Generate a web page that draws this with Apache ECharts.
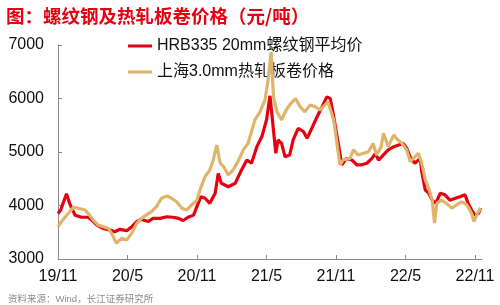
<!DOCTYPE html>
<html>
<head>
<meta charset="utf-8">
<script src="https://cdn.jsdelivr.net/npm/echarts@6/dist/echarts.min.js"></script>
<style>
  html, body { margin: 0; padding: 0; background: #fff; }
  #chart { width: 500px; height: 305px; }
</style>
</head>
<body>
<div id="chart"></div>
<script>
const tickLabels = ["19/11", "20/5", "20/11", "21/5", "21/11", "22/5", "22/11"];

// HRB335 20mm 螺纹钢平均价
const rebarDates = [
  "2019-11-01", "2019-11-08", "2019-11-23", "2019-12-01", "2019-12-15", "2020-01-02", "2020-01-19", "2020-01-28",
  "2020-02-11", "2020-02-28", "2020-03-16", "2020-03-28", "2020-04-11", "2020-04-29", "2020-05-12", "2020-05-25",
  "2020-06-07", "2020-06-25", "2020-07-07", "2020-07-25", "2020-08-13", "2020-08-29", "2020-09-13", "2020-09-25",
  "2020-10-08", "2020-10-22", "2020-11-04", "2020-11-11", "2020-11-22", "2020-12-04", "2020-12-18", "2020-12-26",
  "2021-01-04", "2021-01-22", "2021-02-10", "2021-02-26", "2021-03-10", "2021-03-22", "2021-04-06", "2021-04-19",
  "2021-05-01", "2021-05-10", "2021-05-19", "2021-05-25", "2021-06-01", "2021-06-10", "2021-06-19", "2021-07-01",
  "2021-07-10", "2021-07-23", "2021-08-07", "2021-08-16", "2021-08-28", "2021-09-10", "2021-09-25", "2021-10-07",
  "2021-10-16", "2021-10-25", "2021-11-07", "2021-11-16", "2021-11-28", "2021-12-12", "2021-12-25", "2022-01-07",
  "2022-01-21", "2022-02-04", "2022-02-13", "2022-02-21", "2022-03-04", "2022-03-16", "2022-04-01", "2022-04-13",
  "2022-04-25", "2022-05-04", "2022-05-13", "2022-05-25", "2022-06-09", "2022-06-13", "2022-06-22", "2022-07-01",
  "2022-07-10", "2022-07-19", "2022-08-01", "2022-08-13", "2022-08-26", "2022-09-10", "2022-09-22", "2022-10-05",
  "2022-10-13", "2022-10-22", "2022-11-01", "2022-11-10", "2022-11-16"
];
const rebarPrices = [
  3850, 3915, 4220, 4040, 3820, 3780, 3780, 3730,
  3640, 3570, 3540, 3510, 3555, 3530, 3605, 3700,
  3740, 3700, 3760, 3760, 3790, 3780, 3760, 3720,
  3780, 3820, 4040, 4165, 4135, 4040, 4230, 4600,
  4415, 4350, 4415, 4660, 4850, 4790, 5100, 5290,
  5600, 6050, 5410, 4975, 5225, 5160, 4910, 4945,
  5225, 5440, 5380, 5255, 5440, 5630, 5845, 6030,
  6000, 5660, 5150, 4760, 4880, 4850, 4760, 4760,
  4790, 4880, 4975, 4850, 4945, 5040, 5100, 5130,
  5160, 5070, 4910, 4790, 4880, 4630, 4290, 4230,
  4100, 4040, 4230, 4200, 4100, 4135, 4165, 4200,
  4040, 3915, 3820, 3855, 3950
];

// 上海3.0mm热轧板卷价格
const coilDates = [
  "2019-11-01", "2019-11-13", "2019-11-28", "2019-12-11", "2019-12-23", "2020-01-11", "2020-01-19", "2020-02-02",
  "2020-02-15", "2020-02-28", "2020-03-11", "2020-03-20", "2020-04-02", "2020-04-16", "2020-04-29", "2020-05-12",
  "2020-05-25", "2020-06-07", "2020-06-19", "2020-07-03", "2020-07-16", "2020-07-29", "2020-08-13", "2020-08-25",
  "2020-09-08", "2020-09-22", "2020-10-04", "2020-10-17", "2020-11-01", "2020-11-10", "2020-11-22", "2020-12-04",
  "2020-12-13", "2020-12-22", "2021-01-01", "2021-01-10", "2021-01-22", "2021-02-04", "2021-02-17", "2021-03-01",
  "2021-03-13", "2021-04-01", "2021-04-14", "2021-04-27", "2021-05-05", "2021-05-13", "2021-05-19", "2021-05-28",
  "2021-06-10", "2021-06-22", "2021-07-04", "2021-07-16", "2021-07-28", "2021-08-10", "2021-08-24", "2021-09-07",
  "2021-09-19", "2021-09-28", "2021-10-10", "2021-10-25", "2021-11-04", "2021-11-11", "2021-11-19", "2021-12-07",
  "2021-12-16", "2021-12-28", "2022-01-12", "2022-01-25", "2022-02-07", "2022-02-16", "2022-02-28", "2022-03-04",
  "2022-03-16", "2022-04-01", "2022-04-07", "2022-04-22", "2022-05-04", "2022-05-13", "2022-05-25", "2022-06-04",
  "2022-06-13", "2022-06-22", "2022-07-01", "2022-07-10", "2022-07-16", "2022-07-22", "2022-08-04", "2022-08-17",
  "2022-09-01", "2022-09-13", "2022-09-26", "2022-10-10", "2022-10-22", "2022-10-28", "2022-11-07", "2022-11-16"
];
const coilPrices = [
  3600, 3730, 3855, 3965, 3950, 3915, 3855, 3730,
  3635, 3605, 3575, 3480, 3295, 3390, 3355, 3480,
  3665, 3760, 3820, 3885, 3980, 4135, 4180, 4135,
  4070, 3950, 3915, 4010, 4100, 4320, 4540, 4660,
  4850, 5130, 4790, 4725, 4570, 4660, 4820, 5040,
  5160, 5600, 5750, 5970, 6345, 6870, 6030, 5750,
  5600, 5785, 5910, 6000, 5845, 5750, 5880, 5845,
  5785, 5845, 5940, 5600, 5130, 4760, 4850, 4880,
  5040, 4945, 4975, 5005, 5160, 4945, 5100, 5350,
  5100, 5320, 5255, 5160, 5040, 4820, 4910, 4975,
  4790, 4480, 4320, 4100, 3670, 4040, 4100, 4040,
  3950, 4010, 4070, 4010, 3855, 3700, 3855, 3950
];

// months since 2019-11-01, used as the x value
const monthOffset = (s) => {
  const [y, m, d] = s.split("-").map(Number);
  return (y - 2019) * 12 + (m - 11) + (d - 1) / 30;
};
const toPairs = (dates, values) => dates.map((d, i) => [monthOffset(d), values[i]]);

const FONT = "'Liberation Sans', 'Noto Sans CJK SC', sans-serif";
const tickPositions = tickLabels.map((_, i) => i * 6);

const chart = echarts.init(document.querySelector("#chart"), null, { renderer: "canvas" });
chart.setOption({
  animation: false,
  backgroundColor: "#fff",
  title: [
    {
      text: "图：螺纹钢及热轧板卷价格（元/吨）",
      left: 1, top: 2,
      textStyle: { color: "#E60012", fontSize: 18.5, fontWeight: "bold", fontFamily: "'Noto Sans CJK SC', sans-serif" }
    },
    {
      text: "资料来源：Wind，长江证券研究所",
      left: 3, top: 290,
      textStyle: { color: "#8c8c8c", fontSize: 9.5, fontWeight: "normal", fontFamily: FONT }
    }
  ],
  legend: {
    orient: "vertical",
    left: 123, top: 32,
    itemGap: 8,
    itemWidth: 24, itemHeight: 3,
    icon: "rect",
    z: 1,
    textStyle: { color: "#111", fontSize: 16, lineHeight: 18, fontFamily: FONT }
  },
  grid: { left: 58, right: 18, top: 45, bottom: 46 },
  xAxis: {
    type: "value",
    min: 0, max: 36.6,
    interval: 6,
    splitLine: { show: false },
    axisLine: { lineStyle: { color: "#8a8a8a", width: 1 } },
    axisTick: { inside: true, length: 4, customValues: tickPositions, lineStyle: { color: "#8a8a8a" } },
    axisLabel: {
      customValues: tickPositions,
      margin: 10,
      color: "#111", fontSize: 16, fontFamily: FONT,
      formatter: v => tickLabels[Math.round(v / 6)] ?? ""
    }
  },
  yAxis: {
    type: "value",
    min: 3000, max: 7000, interval: 1000,
    splitLine: { show: false },
    axisLine: { show: true, lineStyle: { color: "#8a8a8a", width: 1 } },
    axisTick: { show: true, inside: true, length: 4, lineStyle: { color: "#8a8a8a" } },
    axisLabel: { margin: 14, color: "#111", fontSize: 16, fontFamily: FONT, formatter: v => String(v) }
  },
  series: [
    {
      name: "HRB335 20mm螺纹钢平均价",
      type: "line",
      z: 5,
      data: toPairs(rebarDates, rebarPrices),
      showSymbol: false,
      color: "#E60012",
      lineStyle: { width: 3.2, color: "#E60012" }
    },
    {
      name: "上海3.0mm热轧板卷价格",
      type: "line",
      z: 6,
      data: toPairs(coilDates, coilPrices),
      showSymbol: false,
      color: "#DEB56B",
      lineStyle: { width: 3.2, color: "#DEB56B" }
    }
  ]
});
</script>
</body>
</html>
